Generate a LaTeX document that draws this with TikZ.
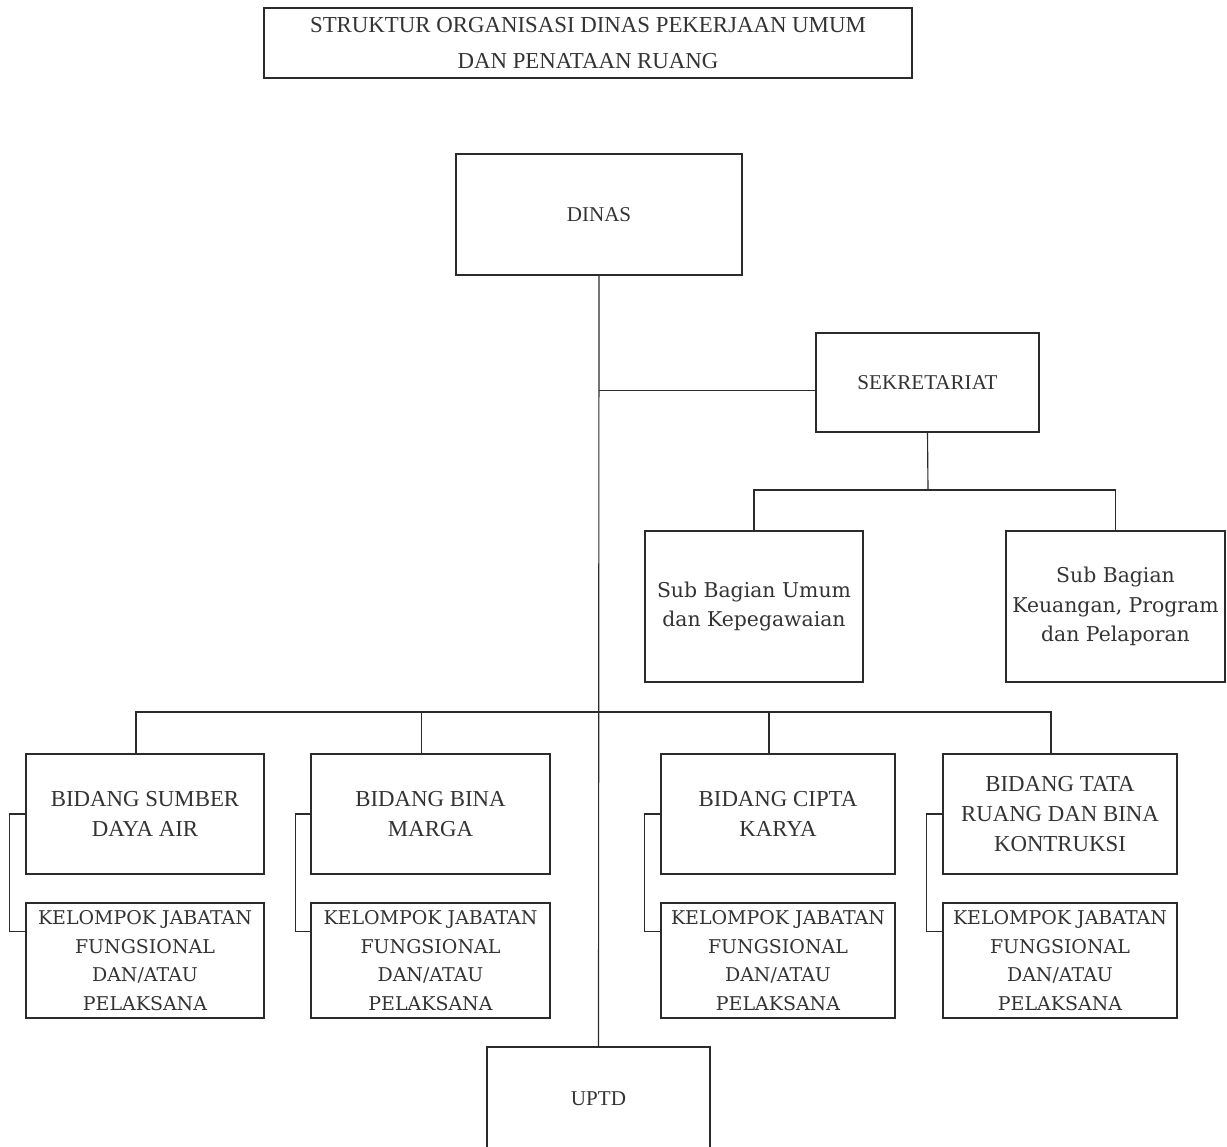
\documentclass[tikz,border=0pt]{standalone}
\usepackage{fontspec}
\setmainfont{Liberation Serif}
\newfontfamily\bookfont{DejaVu Serif}
\usepackage{xcolor}
\definecolor{odark}{HTML}{2b2b2b}
\definecolor{otext}{HTML}{333333}

\begin{document}
\begin{tikzpicture}[x=0.02cm, y=-0.02cm,
		unit/.style={draw=odark, line width=0.65pt, align=center, text=otext, font=\fontsize{12}{17}\selectfont, inner sep=0pt},
		kelompok/.style={unit, minimum height=2.3cm, font=\bookfont\fontsize{10.8}{16.4}\selectfont},
		bidang/.style={unit, minimum height=2.4cm, font=\fontsize{13}{17}\selectfont},
		link/.style={draw=odark, line width=0.65pt}]
		\useasboundingbox (0,0) rectangle (1227,1146);
		% title
		\node[unit, minimum width=12.96cm, minimum height=1.4cm, font=\fontsize{13}{20}\selectfont] (title) at (588,43) {STRUKTUR ORGANISASI DINAS PEKERJAAN UMUM\\DAN PENATAAN RUANG};
		% head and secretariat
		\node[unit, minimum width=5.72cm, minimum height=2.42cm] (dinas) at (599,214.5) {DINAS};
		\node[unit, minimum width=4.46cm, minimum height=1.98cm] (sek) at (927.5,382.5) {SEKRETARIAT};
		\node[unit, minimum width=4.36cm, minimum height=3.02cm, font=\bookfont\fontsize{11.6}{17}\selectfont] (subumum) at (754,606.5) {Sub Bagian Umum\\dan Kepegawaian};
		\node[unit, minimum width=4.38cm, minimum height=3.02cm, font=\bookfont\fontsize{11.6}{17}\selectfont] (subkeu) at (1115.5,606.5) {Sub Bagian\\Keuangan, Program\\dan Pelaporan};
		% bidang
		\node[bidang, minimum width=4.76cm] (b1) at (145,814) {BIDANG SUMBER\\DAYA AIR};
		\node[bidang, minimum width=4.78cm] (b2) at (430.5,814) {BIDANG BINA\\MARGA};
		\node[bidang, minimum width=4.68cm] (b3) at (778,814) {BIDANG CIPTA\\KARYA};
		\node[bidang, minimum width=4.68cm] (b4) at (1060,814) {BIDANG TATA\\RUANG DAN BINA\\KONTRUKSI};
		% kelompok jabatan
		\node[kelompok, minimum width=4.76cm] (k1) at (145,960.5) {KELOMPOK JABATAN\\FUNGSIONAL\\DAN/ATAU\\PELAKSANA};
		\node[kelompok, minimum width=4.78cm] (k2) at (430.5,960.5) {KELOMPOK JABATAN\\FUNGSIONAL\\DAN/ATAU\\PELAKSANA};
		\node[kelompok, minimum width=4.68cm] (k3) at (778,960.5) {KELOMPOK JABATAN\\FUNGSIONAL\\DAN/ATAU\\PELAKSANA};
		\node[kelompok, minimum width=4.68cm] (k4) at (1060,960.5) {KELOMPOK JABATAN\\FUNGSIONAL\\DAN/ATAU\\PELAKSANA};
		\node[unit, minimum width=4.46cm, minimum height=2.06cm] (uptd) at (598.5,1098.5) {UPTD};
		% connectors
		\coordinate (sekbus) at (928,490);
		\coordinate (bus) at (598,712);
		\draw[link] (dinas.south) -- (uptd.north);
		\draw[link] ([yshift=-0.16cm]sek.west) -- ([yshift=-0.16cm]sek.west -| dinas.south);
		\draw[link] (sek.south) -- (sekbus);
		\draw[link] (sekbus) -| (subumum.north);
		\draw[link] (sekbus) -| (subkeu.north);
		\foreach \b in {b1,b2,b3,b4}
			\draw[link] (bus) -| ([xshift=-0.18cm]\b.north);
		\draw[link] (b1.west) -- ++(-16,0) |- ([yshift=-0.58cm]k1.north west);
		\draw[link] (b2.west) -- ++(-15,0) |- ([yshift=-0.58cm]k2.north west);
		\draw[link] (b3.west) -- ++(-16,0) |- ([yshift=-0.58cm]k3.north west);
		\draw[link] (b4.west) -- ++(-16,0) |- ([yshift=-0.58cm]k4.north west);
	\end{tikzpicture}
\end{document}
